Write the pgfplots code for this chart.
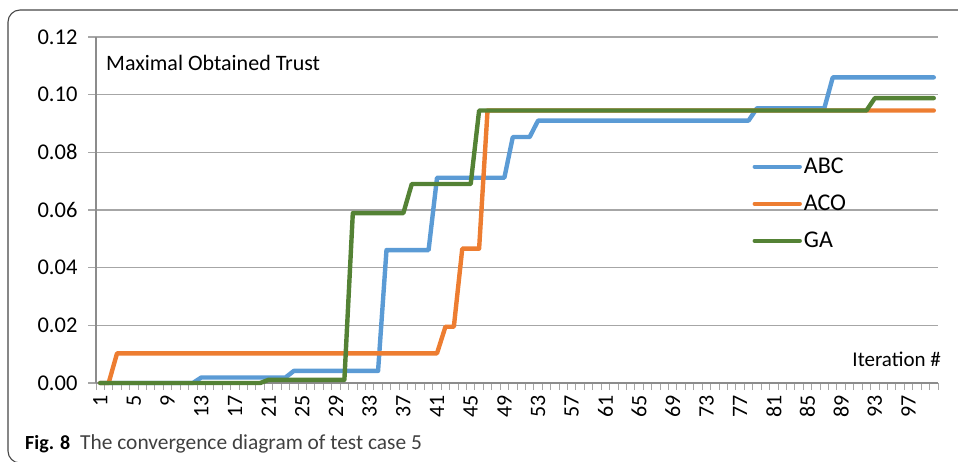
\documentclass[border=0pt]{standalone}
\usepackage{fontspec}
\setmainfont{Carlito}
\usepackage{pgfplots}
\usepackage{pgfplotstable}
\pgfplotsset{compat=1.18}
\definecolor{abc}{HTML}{5B9BD5}
\definecolor{aco}{HTML}{ED7D31}
\definecolor{ga}{HTML}{548235}
\definecolor{gridc}{HTML}{A6A6A6}
\definecolor{axc}{HTML}{8C8C8C}
\definecolor{capc}{HTML}{404040}

\pgfplotstableread{
it abc aco ga
1 0 0 0
2 0 0 0
3 0 0.0103 0
4 0 0.0103 0
5 0 0.0103 0
6 0 0.0103 0
7 0 0.0103 0
8 0 0.0103 0
9 0 0.0103 0
10 0 0.0103 0
11 0 0.0103 0
12 0 0.0103 0
13 0.0019 0.0103 0
14 0.0019 0.0103 0
15 0.0019 0.0103 0
16 0.0019 0.0103 0
17 0.0019 0.0103 0
18 0.0019 0.0103 0
19 0.0019 0.0103 0
20 0.0019 0.0103 0
21 0.0019 0.0103 0.0011
22 0.0019 0.0103 0.0011
23 0.0019 0.0103 0.0011
24 0.0042 0.0103 0.0011
25 0.0042 0.0103 0.0011
26 0.0042 0.0103 0.0011
27 0.0042 0.0103 0.0011
28 0.0042 0.0103 0.0011
29 0.0042 0.0103 0.0011
30 0.0042 0.0103 0.0011
31 0.0042 0.0103 0.0589
32 0.0042 0.0103 0.0589
33 0.0042 0.0103 0.0589
34 0.0042 0.0103 0.0589
35 0.0461 0.0103 0.0589
36 0.0461 0.0103 0.0589
37 0.0461 0.0103 0.0589
38 0.0461 0.0103 0.0690
39 0.0461 0.0103 0.0690
40 0.0461 0.0103 0.0690
41 0.0712 0.0103 0.0690
42 0.0712 0.0195 0.0690
43 0.0712 0.0195 0.0690
44 0.0712 0.0466 0.0690
45 0.0712 0.0466 0.0690
46 0.0712 0.0466 0.0945
47 0.0712 0.0945 0.0945
48 0.0712 0.0945 0.0945
49 0.0712 0.0945 0.0945
50 0.0853 0.0945 0.0945
51 0.0853 0.0945 0.0945
52 0.0853 0.0945 0.0945
53 0.0910 0.0945 0.0945
54 0.0910 0.0945 0.0945
55 0.0910 0.0945 0.0945
56 0.0910 0.0945 0.0945
57 0.0910 0.0945 0.0945
58 0.0910 0.0945 0.0945
59 0.0910 0.0945 0.0945
60 0.0910 0.0945 0.0945
61 0.0910 0.0945 0.0945
62 0.0910 0.0945 0.0945
63 0.0910 0.0945 0.0945
64 0.0910 0.0945 0.0945
65 0.0910 0.0945 0.0945
66 0.0910 0.0945 0.0945
67 0.0910 0.0945 0.0945
68 0.0910 0.0945 0.0945
69 0.0910 0.0945 0.0945
70 0.0910 0.0945 0.0945
71 0.0910 0.0945 0.0945
72 0.0910 0.0945 0.0945
73 0.0910 0.0945 0.0945
74 0.0910 0.0945 0.0945
75 0.0910 0.0945 0.0945
76 0.0910 0.0945 0.0945
77 0.0910 0.0945 0.0945
78 0.0910 0.0945 0.0945
79 0.0953 0.0945 0.0945
80 0.0953 0.0945 0.0945
81 0.0953 0.0945 0.0945
82 0.0953 0.0945 0.0945
83 0.0953 0.0945 0.0945
84 0.0953 0.0945 0.0945
85 0.0953 0.0945 0.0945
86 0.0953 0.0945 0.0945
87 0.0953 0.0945 0.0945
88 0.1060 0.0945 0.0945
89 0.1060 0.0945 0.0945
90 0.1060 0.0945 0.0945
91 0.1060 0.0945 0.0945
92 0.1060 0.0945 0.0945
93 0.1060 0.0945 0.0988
94 0.1060 0.0945 0.0988
95 0.1060 0.0945 0.0988
96 0.1060 0.0945 0.0988
97 0.1060 0.0945 0.0988
98 0.1060 0.0945 0.0988
99 0.1060 0.0945 0.0988
100 0.1060 0.0945 0.0988
}\data

\begin{document}
\begin{tikzpicture}[x=1pt,y=1pt]
\useasboundingbox (0,0) rectangle (958,461);
\draw[color=black!72, line width=1.1pt, rounded corners=12pt] (8,-2) rectangle (995,451);
\begin{axis}[
  at={(96pt,78pt)}, anchor=south west,
  scale only axis, width=842pt, height=346pt,
  xmin=0.5, xmax=100.5, ymin=0, ymax=0.12,
  clip=false,
  axis x line*=bottom, axis y line*=left,
  axis line style={axc, line width=1.3pt},
  ytick={0,0.02,0.04,0.06,0.08,0.10,0.12},
  ymajorgrids,
  major grid style={gridc, line width=1.2pt},
  tick align=outside,
  major tick length=8pt, minor tick length=7pt,
  ytick style={gridc, line width=1.2pt},
  xtick={1,5,...,97},
  minor xtick={0.5,1.5,...,100.5},
  major x tick style={draw=none},
  minor x tick style={gridc, line width=1pt},
  /pgf/number format/assume math mode=true,
  yticklabel style={font=\fontsize{22.5}{26}\selectfont, xshift=-7pt, /pgf/number format/.cd, fixed, fixed zerofill, precision=2},
  xticklabel style={font=\fontsize{22}{26}\selectfont, yshift=-1pt, rotate=90, anchor=east},
  legend cell align=left,
  legend style={at={(rel axis cs:0.7795,0.656)}, anchor=north west, draw=none, fill=none,
    font=\fontsize{24}{27}\selectfont, row sep=16pt, inner sep=0pt},
  legend image code/.code={\draw[#1, line cap=round] (0pt,0pt) -- (45pt,0pt);},
  every axis plot/.append style={line width=4.4pt, line join=round, line cap=round},
]
\addplot[abc, mark=none] table[x=it, y=abc] {\data};
\addplot[aco, mark=none] table[x=it, y=aco] {\data};
\addplot[ga, mark=none] table[x=it, y=ga] {\data};
\legend{ABC, ACO, GA}
\end{axis}
\node[anchor=base west, inner sep=0pt, font=\fontsize{22}{26}\selectfont] at (106,390) {Maximal Obtained Trust};
\node[anchor=base east, inner sep=0pt, font=\fontsize{21}{24}\selectfont] at (941,94.5) {Iteration \#};
\node[anchor=base west, inner sep=0pt, font=\fontsize{20}{24}\selectfont] at (25,11.7) {\textbf{Fig. 8}};
\node[anchor=base west, inner sep=0pt, font=\fontsize{21.4}{24}\selectfont, text=capc] at (80,11.7) {The convergence diagram of test case 5};
\end{tikzpicture}
\end{document}
